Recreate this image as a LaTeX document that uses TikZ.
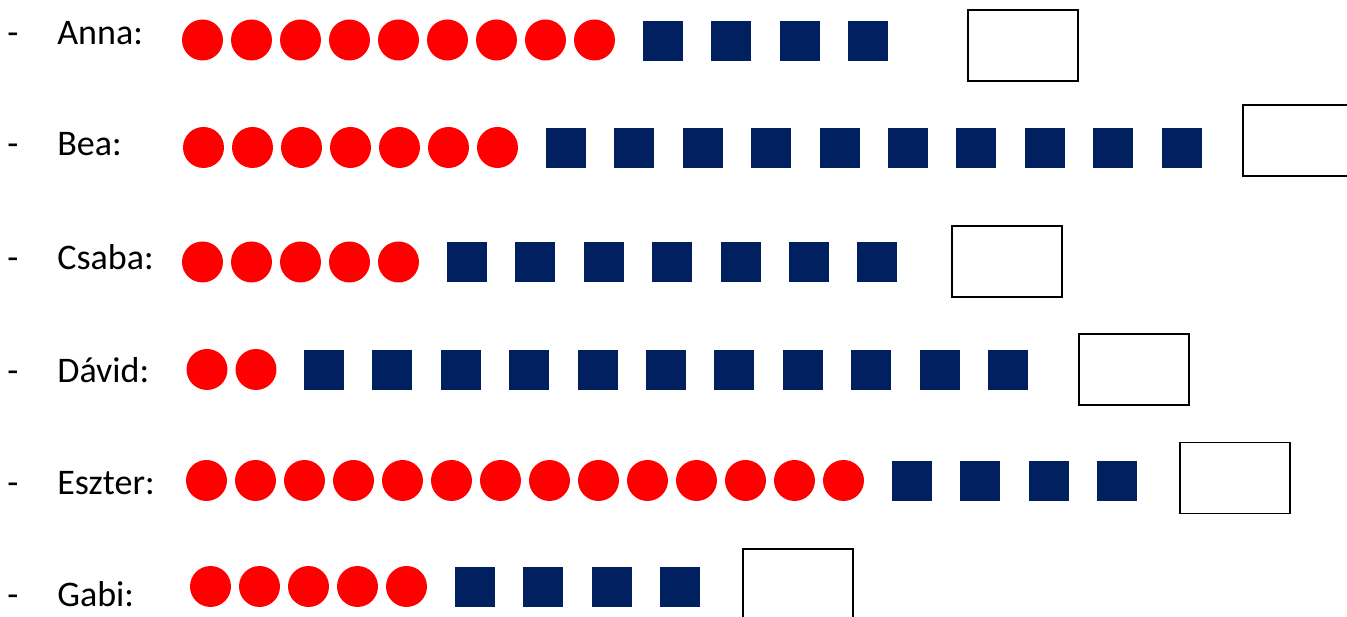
\documentclass[tikz,border=0pt]{standalone}
\usepackage{fontspec}
\setmainfont{Carlito}
\usepackage{xcolor}
\usetikzlibrary{positioning}

\definecolor{navy}{HTML}{002060}

\tikzset{
    dot/.style={circle, fill=red, inner sep=0pt, minimum size=0.82cm},
    sq/.style={rectangle, fill=navy, inner sep=0pt, minimum size=0.8cm},
    answer/.style={rectangle, draw, line width=1.1pt, inner sep=0pt,
        minimum width=2.2cm, minimum height=1.42cm},
    kidname/.style={anchor=base west, inner sep=0pt,
        font=\fontsize{20.5}{24}\selectfont}
}

\begin{document}
\begin{tikzpicture}[x=0.02cm, y=-0.02cm]

    \useasboundingbox (0,0) rectangle (1347,617);
    \clip (0,0) rectangle (1347,617);

    % Anna
    \node[kidname] (anna-dash) at (7,45) {-};
    \node[kidname] (anna) at (57,45) {Anna:};
    \foreach \i in {0,...,8} \node[dot] (anna-dot\i) at (202.5+49*\i,40) {};
    \foreach \i in {0,...,3} \node[sq] (anna-sq\i) at (663+68.4*\i,41) {};
    \node[answer] (anna-box) at (1023,45.5) {};

    % Bea
    \node[kidname] (bea-dash) at (7,156) {-};
    \node[kidname] (bea) at (57,156) {Bea:};
    \foreach \i in {0,...,6} \node[dot] (bea-dot\i) at (203.5+49*\i,147.5) {};
    \foreach \i in {0,...,9} \node[sq] (bea-sq\i) at (566+68.4*\i,148) {};
    \node[answer] (bea-box) at (1298,140.5) {};

    % Csaba
    \node[kidname] (csaba-dash) at (7,270) {-};
    \node[kidname] (csaba) at (57,270) {Csaba:};
    \foreach \i in {0,...,4} \node[dot] (csaba-dot\i) at (202.5+49*\i,262) {};
    \foreach \i in {0,...,6} \node[sq] (csaba-sq\i) at (467+68.4*\i,262) {};
    \node[answer] (csaba-box) at (1007,261.5) {};

    % David
    \node[kidname] (david-dash) at (7,383) {-};
    \node[kidname] (david) at (57,383) {Dávid:};
    \foreach \i in {0,...,1} \node[dot] (david-dot\i) at (207+49*\i,369.5) {};
    \foreach \i in {0,...,10} \node[sq] (david-sq\i) at (324+68.4*\i,370) {};
    \node[answer] (david-box) at (1134,369.5) {};

    % Eszter
    \node[kidname] (eszter-dash) at (7,495) {-};
    \node[kidname] (eszter) at (57,495) {Eszter:};
    \foreach \i in {0,...,13} \node[dot] (eszter-dot\i) at (206.5+49*\i,480.5) {};
    \foreach \i in {0,...,3} \node[sq] (eszter-sq\i) at (912+68.4*\i,481) {};
    \node[answer] (eszter-box) at (1235,478) {};

    % Gabi
    \node[kidname] (gabi-dash) at (7,607) {-};
    \node[kidname] (gabi) at (57,607) {Gabi:};
    \foreach \i in {0,...,4} \node[dot] (gabi-dot\i) at (210.5+49*\i,586.5) {};
    \foreach \i in {0,...,3} \node[sq] (gabi-sq\i) at (475+68.4*\i,587) {};
    \node[answer] (gabi-box) at (798,584.5) {};

\end{tikzpicture}
\end{document}
